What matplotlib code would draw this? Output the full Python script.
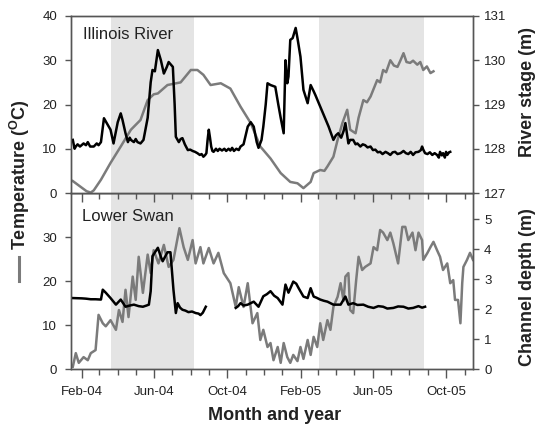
import numpy as np
import matplotlib
matplotlib.use('Agg')
import matplotlib.pyplot as plt
import matplotlib.dates as mdates
from matplotlib.lines import Line2D

plt.rcParams['font.family'] = ['Liberation Sans', 'DejaVu Sans']
plt.rcParams['mathtext.fontset'] = 'custom'
plt.rcParams['mathtext.rm'] = 'Liberation Sans'
plt.rcParams['mathtext.bf'] = 'Liberation Sans:bold'

# ---------------- data: (day offset from 1 Feb 2004, value) ----------------
start = np.datetime64('2004-02-01')
x_limits_days = [-18, 653]
shade_periods = [('2004-03-20', '2004-08-06'), ('2005-03-03', '2005-08-25')]

# Illinois River temperature (deg C)
ill_temp_pts = [(-15, 2.7), (-2, 1.4), (8, 0.4), (15, 0.1), (20, 0.6), (32, 3.0), (48, 6.8),
                (65, 10.5), (82, 14.3), (98, 16.5), (110, 21.0), (120, 22.3), (127, 22.5),
                (143, 24.4), (165, 25.0), (182, 27.8), (193, 27.8), (203, 26.7), (215, 24.4),
                (232, 24.8), (248, 23.6), (265, 19.5), (282, 15.8), (298, 10.5), (315, 7.8),
                (332, 4.5), (348, 2.5), (360, 2.2), (370, 1.1), (382, 2.5), (387, 4.5),
                (398, 5.2), (405, 5.0), (410, 6.0), (420, 8.2), (427, 12.0), (435, 15.8),
                (443, 18.8), (448, 14.3), (457, 13.5), (462, 17.0), (470, 21.0), (476, 20.5),
                (482, 21.8), (493, 25.5), (498, 25.0), (503, 27.8), (508, 27.3), (515, 30.0),
                (521, 28.8), (527, 28.5), (532, 30.0), (537, 31.6), (542, 29.6), (548, 29.4),
                (553, 29.9), (560, 29.0), (565, 29.6), (570, 27.8), (576, 28.6), (582, 27.1),
                (587, 27.5)]

# Illinois River stage (m)
ill_stage_pts = [(-15, 128.20), (-12, 128.00), (-10, 128.05), (-7, 128.10), (-3, 128.05),
                 (3, 128.12), (7, 128.08), (10, 128.15), (14, 128.05), (20, 128.05),
                 (25, 128.12), (28, 128.08), (32, 128.15), (37, 128.69), (43, 128.55),
                 (48, 128.43), (53, 128.12), (60, 128.60), (65, 128.80), (68, 128.65),
                 (73, 128.35), (77, 128.15), (80, 128.25), (82, 128.20), (87, 128.15),
                 (90, 128.22), (93, 128.15), (98, 128.12), (103, 128.20), (110, 128.70),
                 (115, 129.50), (118, 129.78), (122, 129.75), (127, 130.23), (132, 130.00),
                 (137, 129.70), (142, 129.85), (145, 129.96), (152, 129.85), (155, 129.00),
                 (157, 128.27), (160, 128.20), (162, 128.15), (165, 128.22), (168, 128.24),
                 (172, 128.10), (177, 127.97), (181, 127.98), (185, 127.95), (189, 127.93),
                 (193, 127.90), (197, 127.86), (200, 127.88), (203, 127.82), (206, 127.86),
                 (208, 127.90), (210, 128.20), (212, 128.43), (214, 128.25), (216, 128.05),
                 (218, 127.95), (220, 127.93), (224, 128.00), (227, 127.95), (230, 128.00),
                 (234, 127.96), (238, 128.00), (241, 127.95), (245, 128.00), (248, 127.96),
                 (251, 128.02), (254, 127.95), (258, 128.00), (262, 127.97), (265, 128.05),
                 (270, 128.10), (277, 128.50), (282, 128.60), (287, 128.50), (292, 128.15),
                 (295, 128.02), (300, 128.20), (303, 128.50), (307, 129.00), (310, 129.48),
                 (315, 129.44), (323, 129.40), (328, 129.00), (332, 128.70), (337, 128.35),
                 (340, 130.00), (343, 129.48), (345, 129.63), (348, 130.46), (352, 130.50),
                 (357, 130.73), (360, 130.50), (365, 130.08), (370, 129.33), (377, 129.03),
                 (382, 129.44), (387, 129.30), (390, 129.21), (395, 129.05), (403, 128.80),
                 (412, 128.50), (420, 128.20), (424, 128.30), (428, 128.35), (433, 128.25),
                 (437, 128.40), (440, 128.58), (443, 128.30), (445, 128.12), (448, 128.20),
                 (453, 128.20), (457, 128.10), (460, 128.12), (465, 128.05), (469, 128.10),
                 (473, 128.08), (477, 128.03), (482, 128.05), (486, 127.97), (490, 127.98),
                 (494, 127.92), (498, 127.93), (502, 127.88), (507, 127.93), (511, 127.90),
                 (515, 127.86), (519, 127.92), (523, 127.93), (527, 127.88), (532, 127.90),
                 (537, 127.95), (541, 127.90), (545, 127.88), (549, 127.93), (553, 127.86),
                 (557, 127.92), (562, 127.93), (566, 127.97), (568, 128.05), (570, 127.98),
                 (573, 127.90), (577, 127.88), (581, 127.92), (585, 127.86), (589, 127.90),
                 (593, 127.86), (596, 127.80), (598, 127.93), (601, 127.85), (603, 127.90),
                 (606, 127.80), (608, 127.93), (610, 127.86), (613, 127.92), (615, 127.93)]

# Lower Swan temperature (deg C)
swan_temp_pts = [(-15, 0.5), (-10, 3.6), (-5, 1.4), (3, 2.7), (10, 2.0), (15, 3.6), (23, 4.3),
                 (28, 12.3), (35, 10.4), (40, 9.7), (48, 11.1), (57, 8.9), (62, 13.4),
                 (68, 10.7), (73, 18.0), (78, 11.8), (85, 21.0), (90, 15.7), (95, 25.5),
                 (102, 17.3), (110, 26.0), (115, 21.8), (120, 27.0), (128, 24.0), (137, 28.2),
                 (145, 23.2), (153, 24.8), (163, 32.0), (170, 27.7), (177, 24.8), (185, 29.3),
                 (190, 24.0), (198, 27.7), (203, 24.0), (212, 27.5), (220, 24.0), (228, 26.4),
                 (237, 21.8), (248, 19.5), (257, 14.1), (262, 18.6), (270, 14.1), (277, 19.5),
                 (285, 10.4), (293, 12.7), (298, 6.6), (303, 8.9), (310, 5.0), (315, 5.9),
                 (320, 2.0), (327, 5.0), (332, 1.4), (337, 5.9), (343, 2.7), (348, 1.4),
                 (353, 3.2), (360, 1.8), (365, 5.0), (370, 2.3), (377, 6.6), (382, 3.2),
                 (387, 7.3), (393, 5.0), (398, 10.4), (403, 6.6), (410, 11.1), (415, 8.9),
                 (420, 14.1), (427, 16.4), (432, 19.5), (437, 15.5), (440, 21.0), (445, 21.8),
                 (448, 13.4), (453, 12.7), (458, 20.2), (462, 25.5), (468, 22.5), (473, 23.2),
                 (482, 24.0), (487, 27.7), (493, 27.0), (498, 31.6), (503, 31.0), (510, 29.3),
                 (515, 31.0), (520, 28.6), (528, 24.0), (535, 32.3), (540, 32.3), (545, 29.3),
                 (552, 31.0), (557, 27.0), (562, 31.0), (568, 29.3), (570, 24.8), (577, 26.4),
                 (582, 27.7), (587, 28.9), (593, 27.0), (598, 25.5), (603, 22.5), (610, 24.0),
                 (615, 19.5), (620, 20.2), (623, 15.7), (628, 15.7), (632, 10.4), (635, 19.5),
                 (637, 23.2), (643, 24.8), (648, 26.4), (653, 24.8)]

# Lower Swan channel depth (m); NaN = gap in record
swan_depth_pts = [(-15, 2.37), (0, 2.36), (7, 2.35), (15, 2.33), (23, 2.33), (32, 2.32),
                  (35, 2.65), (40, 2.55), (48, 2.37), (57, 2.15), (65, 2.32), (73, 2.08),
                  (80, 2.12), (87, 2.15), (95, 2.10), (102, 2.08), (108, 2.12), (112, 2.15),
                  (115, 2.60), (118, 3.77), (127, 4.05), (132, 3.75), (135, 3.60), (143, 3.90),
                  (148, 3.90), (153, 2.65), (157, 1.87), (160, 2.20), (164, 2.05), (168, 1.98),
                  (173, 1.95), (178, 1.90), (184, 1.92), (190, 1.87), (195, 1.85), (198, 1.80),
                  (202, 1.88), (207, 2.08), (230, np.nan), (257, 2.04), (261, 2.10),
                  (265, 2.20), (270, 2.12), (277, 2.15), (282, 2.20), (287, 2.25), (295, 2.08),
                  (303, 2.43), (309, 2.50), (315, 2.60), (321, 2.45), (327, 2.37), (335, 2.15),
                  (340, 2.82), (345, 2.55), (353, 2.92), (358, 2.85), (362, 2.70), (370, 2.42),
                  (377, 2.37), (382, 2.70), (387, 2.42), (392, 2.38), (398, 2.32), (404, 2.28),
                  (410, 2.25), (415, 2.20), (420, 2.15), (426, 2.15), (432, 2.15),
                  (440, 2.42), (445, 2.15), (453, 2.20), (460, 2.14), (470, 2.15), (478, 2.08),
                  (487, 2.04), (495, 2.10), (503, 2.08), (510, 2.02), (520, 2.04), (528, 2.09),
                  (537, 2.08), (545, 2.02), (553, 2.04), (562, 2.10), (568, 2.05),
                  (573, 2.08)]

month_fmt = '%b-%y'


def split(pts):
    days, vals = zip(*pts)
    return start + np.array(days, dtype='timedelta64[D]'), np.array(vals, dtype=float)


# ---------------- figure ----------------
W, H = 537, 426
fig = plt.figure(figsize=(W / 100, H / 100), dpi=100)

L, R = 71 / W, 473 / W
top_top, mid, bot_bot = 16, 193, 369
ax2 = fig.add_axes([L, 1 - bot_bot / H, R - L, (bot_bot - mid) / H])
ax2r = ax2.twinx()
ax1 = fig.add_axes([L, 1 - mid / H, R - L, (mid - top_top) / H])
ax1r = ax1.twinx()

gray = '#7b7b7b'
spine_c = '#555555'
lw_line = 1.8

for ax in (ax1, ax2):
    for s, e in shade_periods:
        ax.axvspan(np.datetime64(s), np.datetime64(e), color='#e4e4e4', lw=0, zorder=0)

ax1.plot(*split(ill_temp_pts), color=gray, lw=lw_line)
ax1r.plot(*split(ill_stage_pts), color='black', lw=lw_line)
ax2.plot(*split(swan_temp_pts), color=gray, lw=lw_line)
ax2r.plot(*split(swan_depth_pts), color='black', lw=lw_line)

xlim = (start + np.timedelta64(x_limits_days[0], 'D'),
        start + np.timedelta64(x_limits_days[1], 'D'))
ax1.set_ylim(0, 40)
ax1.set_yticks([0, 10, 20, 30, 40])
ax1r.set_ylim(127, 131)
ax1r.set_yticks([127, 128, 129, 130, 131])
ax2.set_ylim(0, 40)
ax2.set_yticks([0, 10, 20, 30])
ax2r.set_ylim(0, 5.88)
ax2r.set_yticks([0, 1, 2, 3, 4, 5])

for ax in (ax1, ax1r, ax2, ax2r):
    ax.set_xlim(*xlim)
    ax.xaxis.set_major_locator(mdates.MonthLocator(bymonth=[2, 6, 10]))
    ax.xaxis.set_minor_locator(mdates.MonthLocator())
    ax.xaxis.set_major_formatter(mdates.DateFormatter(month_fmt))
    for sp in ax.spines.values():
        sp.set_color(spine_c)
        sp.set_linewidth(1.0)
    ax.tick_params(axis='both', which='both', colors=spine_c, labelcolor='#222222',
                   labelsize=9.5, width=1.0)
    ax.tick_params(axis='x', which='major', length=6.5, pad=6)
    ax.tick_params(axis='x', which='minor', length=4)
    ax.tick_params(axis='y', which='major', length=4.5, pad=5.5)

ax1.tick_params(axis='x', which='both', labelbottom=False)
ax1r.tick_params(axis='x', which='both', labelbottom=False)
ax1r.tick_params(axis='y', pad=3.5)
ax2r.tick_params(axis='y', pad=3.5)

ax1.text(0.03, 0.895, 'Illinois River', transform=ax1.transAxes, fontsize=12,
         va='center', ha='left', color='#222222')
ax2.text(0.027, 0.866, 'Lower Swan', transform=ax2.transAxes, fontsize=12,
         va='center', ha='left', color='#222222')

# axis labels
fig.text(20 / W, 1 - 250 / H, r'Temperature ($^{\mathbf{O}}$C)', rotation=90,
         ha='center', va='bottom', fontsize=13, fontweight='bold', color='#222222')
fig.add_artist(Line2D([19 / W, 19 / W], [1 - 281 / H, 1 - 257 / H], color=gray, lw=2.2,
                      transform=fig.transFigure))
fig.text(527 / W, 1 - 92 / H, 'River stage (m)', rotation=90, ha='center', va='center',
         fontsize=13, fontweight='bold', color='#222222')
fig.text(527 / W, 1 - 287 / H, 'Channel depth (m)', rotation=90, ha='center', va='center',
         fontsize=13, fontweight='bold', color='#222222')
fig.text(275 / W, 1 - 420 / H, 'Month and year', ha='center', va='baseline',
         fontsize=13, fontweight='bold', color='#222222')

fig.savefig('out.png', dpi=100)
